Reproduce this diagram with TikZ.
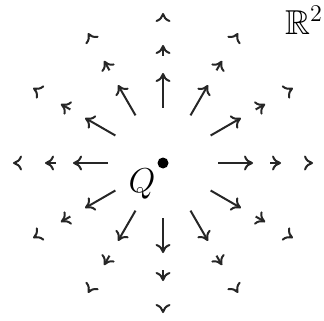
\documentclass[tikz,border=0pt]{standalone}
\usepackage{amssymb}
\usepackage{tikz}
\usetikzlibrary{positioning, arrows.meta}

\begin{document}
\begin{tikzpicture}[
    x=0.5pt, y=0.5pt,
    field/.style={line width=1pt, -{To[length=4.5pt,width=7.5pt]}, black!85},
    lbl/.style={font=\LARGE, inner sep=0pt},
]
\useasboundingbox (-163,-157) rectangle (161,163);

% Point charge
\node[circle, fill=black, inner sep=0pt, minimum size=5.5pt] (q) at (0,0) {};
\node[lbl] (qlabel) at (-21,-21) {$Q$};

% Radial field, 12 directions, three rings
\foreach \a in {0,30,...,330} {
    \foreach \r/\s in {55/90, 107/118, 146/150} {
        \draw[field] (\a:\r) -- (\a:\s);
    }
}

% Space label
\node[lbl] (space) at (141,143) {$\mathbb{R}^2$};

\end{tikzpicture}
\end{document}
